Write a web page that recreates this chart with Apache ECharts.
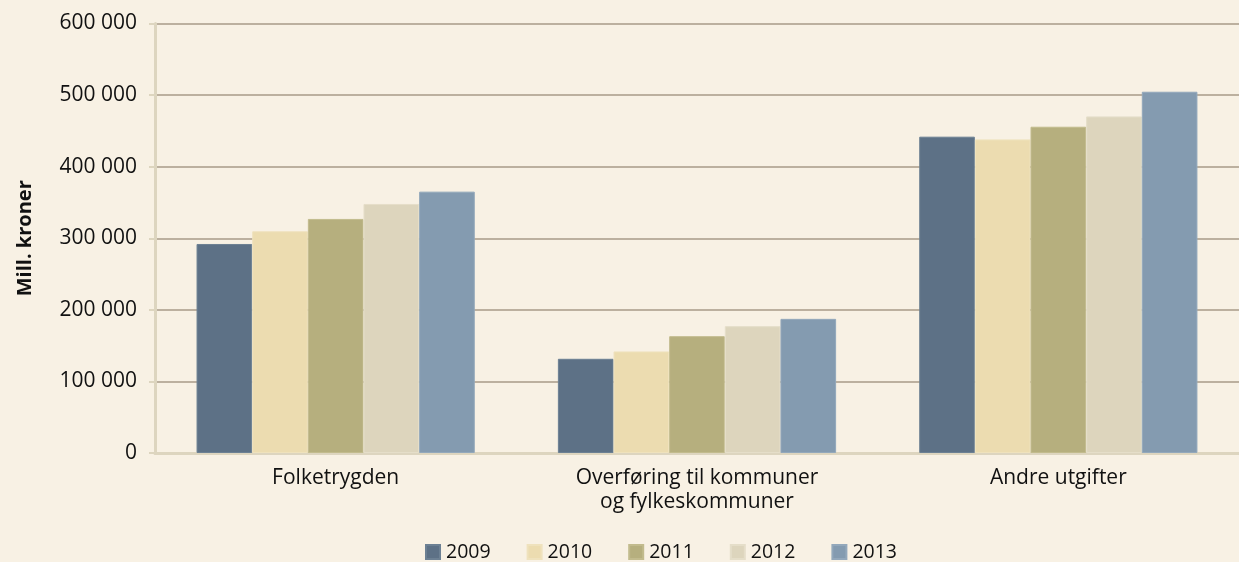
<!DOCTYPE html>
<html>
<head>
<meta charset="utf-8">
<script src="https://cdn.jsdelivr.net/npm/echarts@6/dist/echarts.min.js"></script>
<style>
  html, body { margin: 0; padding: 0; background: #f8f1e4; }
  #chart { width: 1239px; height: 562px; }
</style>
</head>
<body>
<div id="chart"></div>
<script>
// Utgifter etter formål, mill. kroner
const categories = ['Folketrygden', 'Overføring til kommuner\nog fylkeskommuner', 'Andre utgifter'];
const years = ['2009', '2010', '2011', '2012', '2013'];
const v2009 = [292000, 131600, 441900];
const v2010 = [309700, 141900, 438100];
const v2011 = [327000, 163200, 455800];
const v2012 = [347900, 177200, 470200];
const v2013 = [365100, 187400, 504700];
const yTicks = [0, 100000, 200000, 300000, 400000, 500000, 600000];

const values = [v2009, v2010, v2011, v2012, v2013];
const colors = ['#5d7186', '#ecdcb0', '#b6af7e', '#ddd5bd', '#849bb0'];
const edges = ['#6c8093', '#efe2bd', '#c2bb8d', '#e5dec9', '#93a8bb'];

const fmt = v => String(v).replace(/\B(?=(\d{3})+(?!\d))/g, ' ');
const font = '"Open Sans", "Noto Sans", sans-serif';

const chart = echarts.init(document.getElementById('chart'), null, { renderer: 'canvas' });
chart.setOption({
  backgroundColor: '#f8f1e4',
  animation: false,
  textStyle: { fontFamily: font },
  grid: { left: 155, right: -3, top: 23.5, bottom: 109 },
  legend: {
    top: 537,
    left: 420,
    itemWidth: 14,
    itemHeight: 14,
    itemGap: 36,
    icon: 'rect',
    textStyle: { fontSize: 19.5, color: '#111', fontFamily: font, padding: [0, 0, 0, 1] },
    data: years
  },
  xAxis: {
    type: 'category',
    data: categories,
    axisLine: { lineStyle: { color: '#ddd5bf', width: 3 } },
    axisTick: { show: false },
    axisLabel: { fontSize: 21, color: '#111', margin: 13, lineHeight: 24, fontFamily: font }
  },
  yAxis: {
    type: 'value',
    min: yTicks[0],
    max: yTicks[yTicks.length - 1],
    interval: yTicks[1] - yTicks[0],
    name: 'Mill. kroner',
    nameLocation: 'middle',
    nameGap: 120,
    nameTextStyle: { fontSize: 20, fontWeight: 'bold', color: '#111', fontFamily: font },
    axisLine: { show: true, lineStyle: { color: '#ddd5bf', width: 3 } },
    axisTick: { show: true, length: 6, lineStyle: { color: '#ddd5bf', width: 2 } },
    axisLabel: { fontSize: 21, color: '#111', margin: 18, formatter: v => fmt(v), fontFamily: font },
    splitLine: { lineStyle: { color: '#a89a88', width: 1.5 } }
  },
  series: years.map((y, i) => ({
    name: y,
    type: 'bar',
    data: values[i],
    barGap: '0%',
    barCategoryGap: '23%',
    itemStyle: { color: colors[i], borderColor: edges[i], borderWidth: 1 }
  }))
});
</script>
</body>
</html>
